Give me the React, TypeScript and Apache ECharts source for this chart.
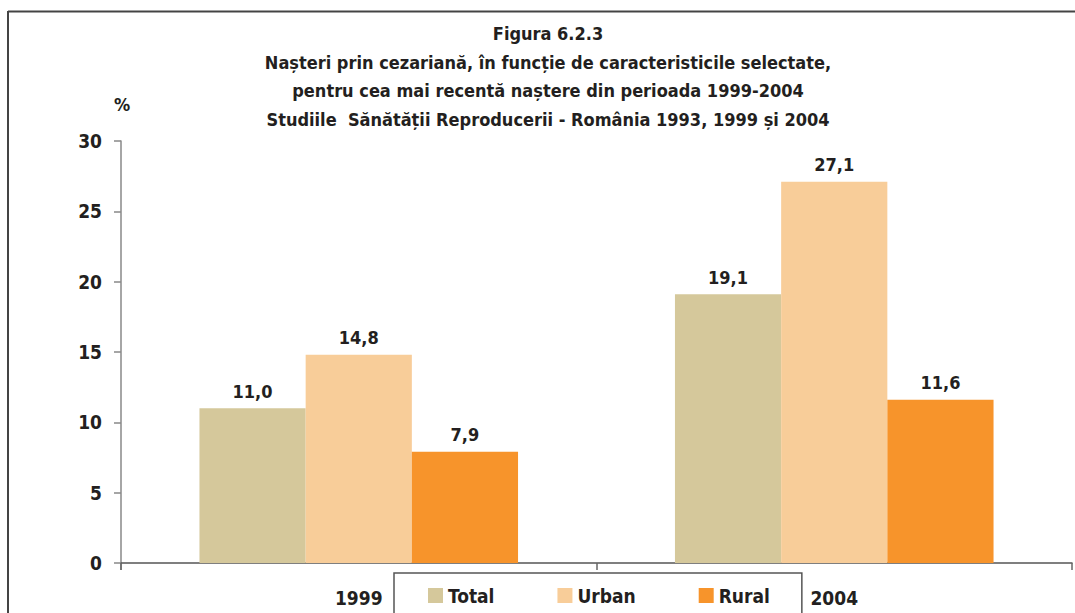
import React, { useEffect, useRef } from "react";
import * as echarts from "echarts";

const categories = ["1999", "2004"];
const seriesNames = ["Total", "Urban", "Rural"];
const totalValues = [11.0, 19.1];
const urbanValues = [14.8, 27.1];
const ruralValues = [7.9, 11.6];
const yTicks = [0, 5, 10, 15, 20, 25, 30];
const titleLines = [
  "Figura 6.2.3",
  "Nașteri prin cezariană, în funcție de caracteristicile selectate,",
  "pentru cea mai recentă naștere din perioada 1999-2004",
  "Studiile  Sănătății Reproducerii - România 1993, 1999 și 2004",
];

const FONT = '"DejaVu Sans Condensed", "Liberation Sans Narrow", "Roboto", sans-serif';
const TXT = "#231F20";
const colors = ["#D5C89B", "#F8CD99", "#F7942B"];

export default function App() {
  const ref = useRef<HTMLDivElement>(null);
  useEffect(() => {
    document.body.style.margin = "0";
    const chart = echarts.init(ref.current!, undefined, { renderer: "svg" });
    const values = [totalValues, urbanValues, ruralValues];
    const fmt = (p: any) => Number(p.value).toFixed(1).replace(".", ",");
    chart.setOption({
      animation: false,
      textStyle: { fontFamily: FONT },
      title: {
        text: titleLines.join("\n"),
        left: 548,
        top: 19,
        padding: 0,
        textAlign: "center",
        textStyle: {
          fontFamily: FONT,
          fontWeight: "bold",
          fontSize: 18,
          lineHeight: 28.7,
          color: TXT,
        },
      },
      legend: {
        data: seriesNames,
        left: 394,
        top: 573,
        itemWidth: 15,
        itemHeight: 15,
        itemGap: 63,
        padding: [13, 32, 10, 34],
        borderColor: "#555",
        borderWidth: 1.5,
        icon: "rect",
        textStyle: { fontFamily: FONT, fontWeight: "bold", fontSize: 19, color: TXT, padding: [0, 0, 0, 0] },
      },
      grid: { left: 121, right: 3, top: 141, bottom: 50, containLabel: false },
      xAxis: {
        type: "category",
        data: categories,
        axisLine: { lineStyle: { color: "#555", width: 1.5 } },
        axisTick: { show: true, length: 7, lineStyle: { color: "#666", width: 1.5 } },
        axisLabel: { fontFamily: FONT, fontWeight: "bold", fontSize: 19, color: TXT, margin: 25 },
      },
      yAxis: {
        type: "value",
        min: yTicks[0],
        max: yTicks[yTicks.length - 1],
        interval: 5,
        name: "%",
        nameLocation: "end",
        nameGap: 28,
        nameTextStyle: { fontFamily: FONT, fontWeight: "bold", fontSize: 18, color: TXT, align: "center", padding: [0, 0, 0, 2] },
        axisLine: { show: true, lineStyle: { color: "#888", width: 1.5 } },
        axisTick: { show: true, length: 7, lineStyle: { color: "#888", width: 1.5 } },
        splitLine: { show: false },
        axisLabel: { fontFamily: FONT, fontWeight: "bold", fontSize: 19, color: TXT, margin: 19 },
      },
      series: seriesNames.map((name, i) => ({
        name,
        type: "bar",
        data: values[i],
        barGap: "0%",
        barCategoryGap: "33%",
        itemStyle: { color: colors[i] },
        label: {
          show: true,
          position: "top",
          distance: 8,
          formatter: fmt,
          fontFamily: FONT,
          fontWeight: "bold",
          fontSize: 18,
          color: TXT,
        },
      })),
      graphic: [
        { type: "line", shape: { x1: 8, y1: 11.5, x2: 1075, y2: 11.5 }, style: { stroke: "#444", lineWidth: 2 } },
        { type: "line", shape: { x1: 8, y1: 11, x2: 8, y2: 613 }, style: { stroke: "#444", lineWidth: 2 } },
        { type: "line", shape: { x1: 121, y1: 563, x2: 121, y2: 570 }, style: { stroke: "#888", lineWidth: 1.5 } },
      ],
    });
    return () => chart.dispose();
  }, []);
  return <div ref={ref} style={{ position: "absolute", left: 0, top: 0, width: 1075, height: 613 }} />;
}
